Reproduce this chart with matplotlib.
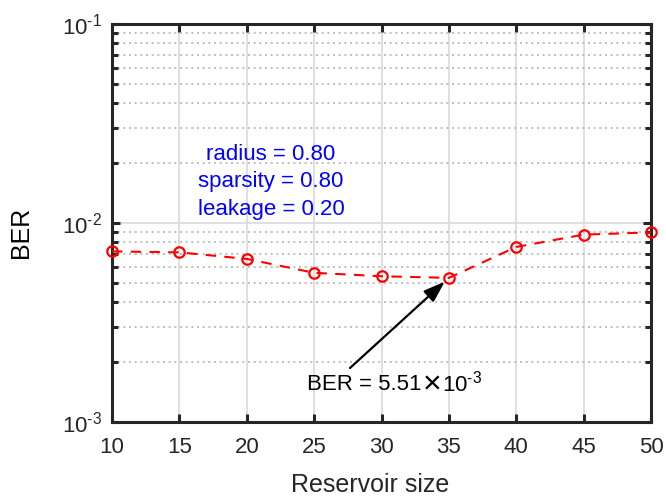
import matplotlib
matplotlib.use("Agg")
import matplotlib.pyplot as plt
from matplotlib.ticker import LogLocator, FixedLocator, NullFormatter

plt.rcParams['font.family'] = ['Liberation Sans', 'DejaVu Sans']
plt.rcParams['mathtext.fontset'] = 'custom'
plt.rcParams['mathtext.rm'] = 'Liberation Sans'
plt.rcParams['mathtext.it'] = 'Liberation Sans'
plt.rcParams['mathtext.default'] = 'regular'

reservoir_size = [10, 15, 20, 25, 30, 35, 40, 45, 50]
ber = [7.20e-3, 7.12e-3, 6.60e-3, 5.62e-3, 5.40e-3, 5.30e-3, 7.58e-3, 8.74e-3, 8.97e-3]
x_ticks = [10, 15, 20, 25, 30, 35, 40, 45, 50]
y_ticks = [1e-3, 1e-2, 1e-1]
y_tick_labels = [r'10$^{\text{-3}}$', r'10$^{\text{-2}}$', r'10$^{\text{-1}}$']
params_text = ["radius = 0.80", "sparsity = 0.80", "leakage = 0.20"]
annot_parts = ["BER = 5.51", "\u00d7", r"10$^{\text{-3}}$"]
annot_idx = 5

W, H = 666, 496
fig = plt.figure(figsize=(W / 100, H / 100), dpi=100)
L, R, T, B = 112, 651, 24, 422
ax = fig.add_axes([L / W, 1 - B / H, (R - L) / W, (B - T) / H])

ax.set_yscale('log')
ax.set_xlim(10, 50)
ax.set_ylim(1e-3, 1e-1)

ax.set_xticks(x_ticks)
ax.yaxis.set_major_locator(FixedLocator(y_ticks))
ax.yaxis.set_minor_locator(LogLocator(base=10, subs=range(2, 10)))
ax.yaxis.set_minor_formatter(NullFormatter())
ax.grid(True, which='major', color='#dcdcdc', linewidth=1.3, linestyle='-')
ax.grid(True, which='minor', axis='y', color='#b4b4b4', linewidth=1.2, linestyle=(0, (1.2, 2.2)))
ax.set_axisbelow(True)

ax.plot(reservoir_size, ber, color='#ff0000', linestyle=(0, (5, 4)), linewidth=1.5,
        marker='o', markersize=7.5, markerfacecolor='none', markeredgecolor='#ff0000',
        markeredgewidth=1.6, clip_on=False, zorder=3)

for s in ax.spines.values():
    s.set_color('#262626')
    s.set_linewidth(2.2)

ax.tick_params(which='both', direction='in', top=True, right=True, color='#262626',
               labelcolor='#262626', labelsize=16)
ax.tick_params(axis='x', pad=10.5)
ax.tick_params(axis='y', pad=7.5)
ax.tick_params(which='major', length=6, width=2.2)
ax.tick_params(which='minor', length=4, width=2.2)
ax.set_yticklabels(y_tick_labels)

ax.set_xlabel('Reservoir size', fontsize=18, color='#262626', va='center')
ax.xaxis.set_label_coords((370 - L) / (R - L), (H - 485 - (H - B)) / (B - T))
ax.set_ylabel('BER', fontsize=18, color='black', va='center')
ax.yaxis.set_label_coords((21 - L) / (R - L), (H - 232 - (H - B)) / (B - T))

for i, t in enumerate(params_text):
    ax.text(271, H - (155 + 27 * i), t, transform=None, color='#0000ff',
            fontsize=16, ha='center', va='center')

# arrow
ax.annotate('', xy=(reservoir_size[annot_idx], ber[annot_idx]),
            xytext=(350, H - 368), textcoords='figure pixels',
            arrowprops=dict(arrowstyle='-|>,head_length=1.3,head_width=0.45', color='black',
                            lw=1.6, shrinkA=0, shrinkB=4))

# annotation text built from parts so the multiplication sign can be larger
renderer = fig.canvas.get_renderer()
t1 = ax.text(307, H - 384, annot_parts[0], transform=None, fontsize=16,
             ha='left', va='center', color='black')
x1 = t1.get_window_extent(renderer).x1
t2 = ax.text(x1 + 1, H - 385, annot_parts[1], transform=None, fontsize=23,
             ha='left', va='center', color='black')
x2 = t2.get_window_extent(renderer).x1
ax.text(x2 + 1, H - 384, annot_parts[2], transform=None, fontsize=16,
        ha='left', va='center', color='black')

fig.savefig('out.png', dpi=100)
